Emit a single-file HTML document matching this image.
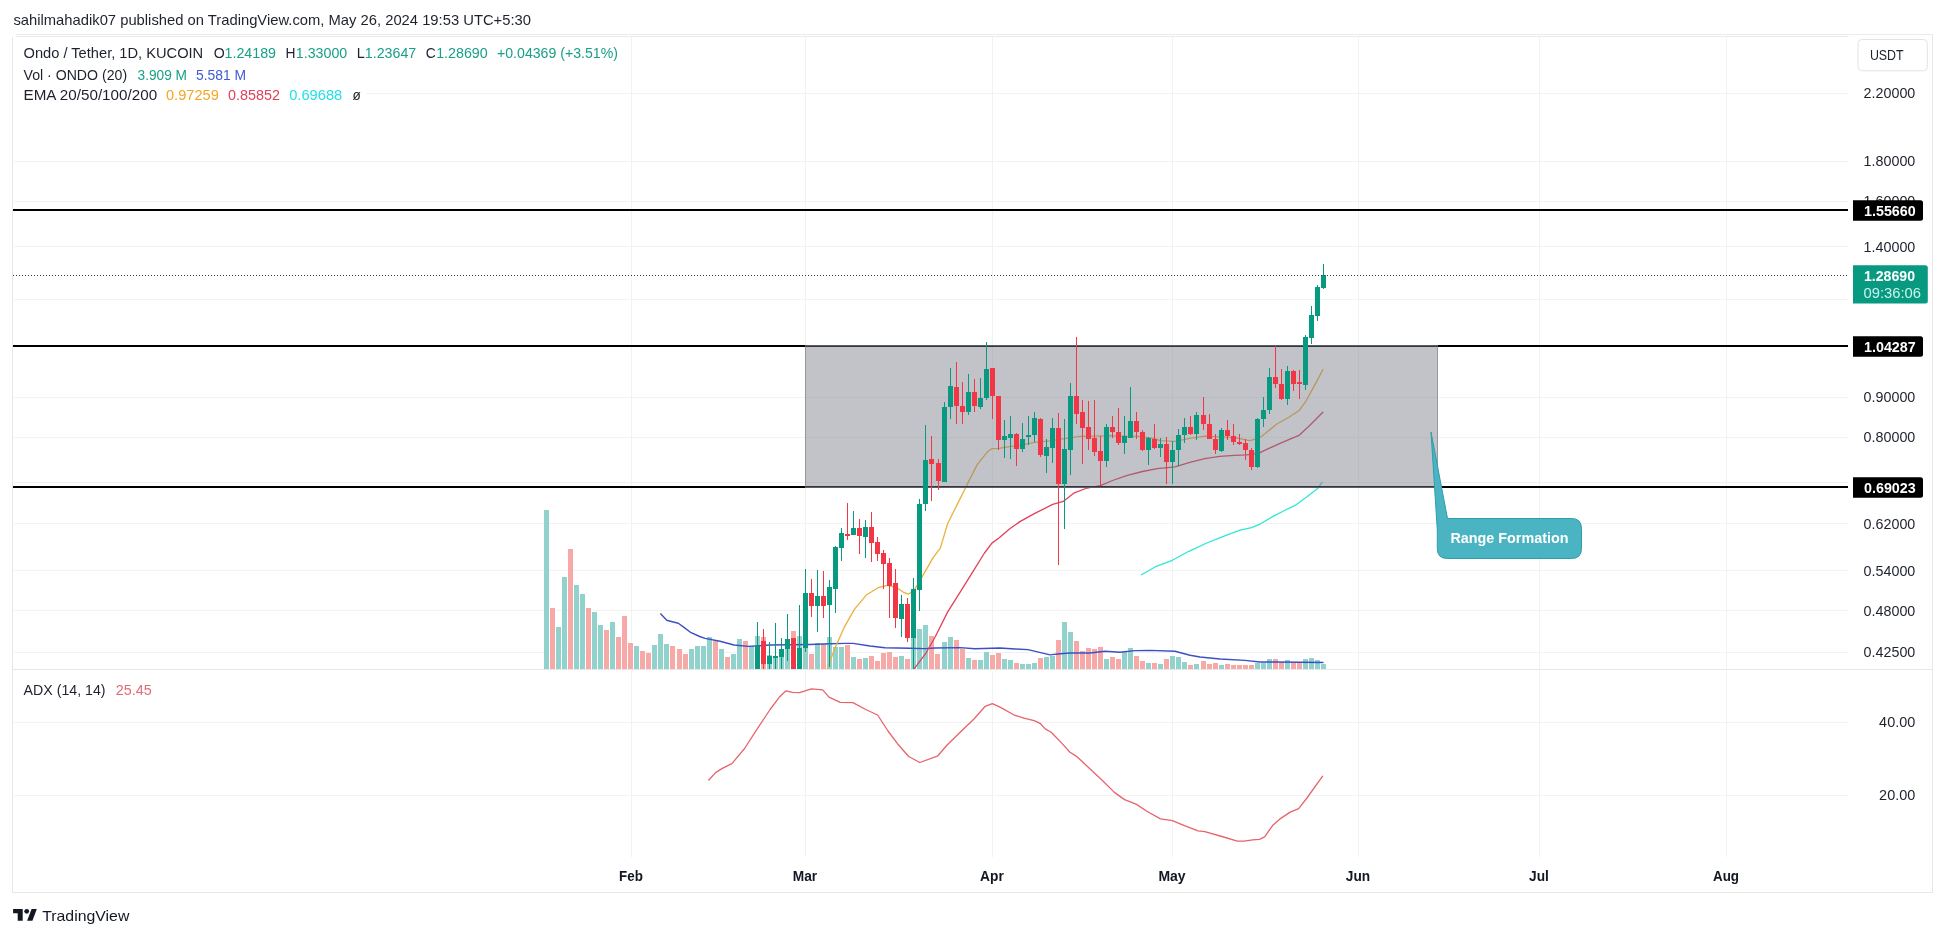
<!DOCTYPE html>
<html><head><meta charset="utf-8"><title>Ondo / Tether chart</title>
<style>html,body{margin:0;padding:0;background:#fff;width:1946px;height:937px;overflow:hidden}</style>
</head><body>
<svg width="1946" height="937" viewBox="0 0 1946 937" font-family='"Liberation Sans", sans-serif' style="display:block;will-change:transform"><rect width="1946" height="937" fill="#ffffff"/><text x="13.4" y="25" font-size="14.8" fill="#1e222d" textLength="517.6" lengthAdjust="spacingAndGlyphs">sahilmahadik07 published on TradingView.com, May 26, 2024 19:53 UTC+5:30</text><line x1="16" y1="34.5" x2="1933" y2="34.5" stroke="#ececec" stroke-width="1"/><line x1="16" y1="36.5" x2="1848" y2="36.5" stroke="#ececec" stroke-width="1"/><line x1="12.5" y1="37" x2="12.5" y2="893" stroke="#e6e6e6" stroke-width="1"/><line x1="1932.5" y1="34" x2="1932.5" y2="893" stroke="#e6e6e6" stroke-width="1"/><line x1="12" y1="892.5" x2="1933" y2="892.5" stroke="#e6e6e6" stroke-width="1"/><line x1="12" y1="669.5" x2="1933" y2="669.5" stroke="#e6e6e6" stroke-width="1"/><line x1="631.5" y1="37" x2="631.5" y2="669" stroke="#f2f2f3" stroke-width="1"/><line x1="631.5" y1="671" x2="631.5" y2="857" stroke="#f2f2f3" stroke-width="1"/><line x1="805.5" y1="37" x2="805.5" y2="669" stroke="#f2f2f3" stroke-width="1"/><line x1="805.5" y1="671" x2="805.5" y2="857" stroke="#f2f2f3" stroke-width="1"/><line x1="992.5" y1="37" x2="992.5" y2="669" stroke="#f2f2f3" stroke-width="1"/><line x1="992.5" y1="671" x2="992.5" y2="857" stroke="#f2f2f3" stroke-width="1"/><line x1="1172.5" y1="37" x2="1172.5" y2="669" stroke="#f2f2f3" stroke-width="1"/><line x1="1172.5" y1="671" x2="1172.5" y2="857" stroke="#f2f2f3" stroke-width="1"/><line x1="1358.5" y1="37" x2="1358.5" y2="669" stroke="#f2f2f3" stroke-width="1"/><line x1="1358.5" y1="671" x2="1358.5" y2="857" stroke="#f2f2f3" stroke-width="1"/><line x1="1539.5" y1="37" x2="1539.5" y2="669" stroke="#f2f2f3" stroke-width="1"/><line x1="1539.5" y1="671" x2="1539.5" y2="857" stroke="#f2f2f3" stroke-width="1"/><line x1="1726.5" y1="37" x2="1726.5" y2="669" stroke="#f2f2f3" stroke-width="1"/><line x1="1726.5" y1="671" x2="1726.5" y2="857" stroke="#f2f2f3" stroke-width="1"/><line x1="14" y1="93.5" x2="1848" y2="93.5" stroke="#f2f2f3" stroke-width="1"/><line x1="14" y1="161.5" x2="1848" y2="161.5" stroke="#f2f2f3" stroke-width="1"/><line x1="14" y1="201.5" x2="1848" y2="201.5" stroke="#f2f2f3" stroke-width="1"/><line x1="14" y1="246.5" x2="1848" y2="246.5" stroke="#f2f2f3" stroke-width="1"/><line x1="14" y1="299.5" x2="1848" y2="299.5" stroke="#f2f2f3" stroke-width="1"/><line x1="14" y1="397.5" x2="1848" y2="397.5" stroke="#f2f2f3" stroke-width="1"/><line x1="14" y1="437.5" x2="1848" y2="437.5" stroke="#f2f2f3" stroke-width="1"/><line x1="14" y1="482.5" x2="1848" y2="482.5" stroke="#f2f2f3" stroke-width="1"/><line x1="14" y1="523.5" x2="1848" y2="523.5" stroke="#f2f2f3" stroke-width="1"/><line x1="14" y1="570.5" x2="1848" y2="570.5" stroke="#f2f2f3" stroke-width="1"/><line x1="14" y1="610.5" x2="1848" y2="610.5" stroke="#f2f2f3" stroke-width="1"/><line x1="14" y1="652.5" x2="1848" y2="652.5" stroke="#f2f2f3" stroke-width="1"/><line x1="14" y1="722.5" x2="1848" y2="722.5" stroke="#f2f2f3" stroke-width="1"/><line x1="14" y1="795.5" x2="1848" y2="795.5" stroke="#f2f2f3" stroke-width="1"/><defs><clipPath id="cm"><rect x="13" y="36" width="1835" height="633"/></clipPath><clipPath id="ca"><rect x="13" y="670" width="1835" height="187"/></clipPath></defs><g clip-path="url(#cm)"><rect x="544" y="510" width="5" height="159" fill="#92d2cc"/><rect x="550" y="608" width="5" height="61" fill="#f7a9a7"/><rect x="556" y="627" width="5" height="42" fill="#92d2cc"/><rect x="562" y="577" width="5" height="92" fill="#92d2cc"/><rect x="568" y="549" width="5" height="120" fill="#f7a9a7"/><rect x="574" y="585" width="5" height="84" fill="#92d2cc"/><rect x="580" y="594" width="5" height="75" fill="#92d2cc"/><rect x="586" y="608" width="5" height="61" fill="#f7a9a7"/><rect x="592" y="612" width="5" height="57" fill="#92d2cc"/><rect x="598" y="625" width="5" height="44" fill="#92d2cc"/><rect x="604" y="630" width="5" height="39" fill="#f7a9a7"/><rect x="610" y="622" width="5" height="47" fill="#92d2cc"/><rect x="616" y="637" width="5" height="32" fill="#f7a9a7"/><rect x="622" y="616" width="5" height="53" fill="#f7a9a7"/><rect x="628" y="643" width="5" height="26" fill="#f7a9a7"/><rect x="634" y="646" width="5" height="23" fill="#92d2cc"/><rect x="640" y="651" width="5" height="18" fill="#f7a9a7"/><rect x="646" y="653" width="5" height="16" fill="#f7a9a7"/><rect x="652" y="645" width="5" height="24" fill="#92d2cc"/><rect x="658" y="634" width="5" height="35" fill="#92d2cc"/><rect x="664" y="644" width="5" height="25" fill="#92d2cc"/><rect x="670" y="646" width="5" height="23" fill="#f7a9a7"/><rect x="677" y="649" width="5" height="20" fill="#f7a9a7"/><rect x="683" y="654" width="5" height="15" fill="#f7a9a7"/><rect x="689" y="649" width="5" height="20" fill="#92d2cc"/><rect x="695" y="646" width="5" height="23" fill="#92d2cc"/><rect x="701" y="646" width="5" height="23" fill="#92d2cc"/><rect x="707" y="637" width="5" height="32" fill="#92d2cc"/><rect x="713" y="641" width="5" height="28" fill="#f7a9a7"/><rect x="719" y="649" width="5" height="20" fill="#92d2cc"/><rect x="725" y="657" width="5" height="12" fill="#f7a9a7"/><rect x="731" y="654" width="5" height="15" fill="#92d2cc"/><rect x="737" y="639" width="5" height="30" fill="#92d2cc"/><rect x="743" y="641" width="5" height="28" fill="#f7a9a7"/><rect x="749" y="646" width="5" height="23" fill="#92d2cc"/><rect x="755" y="636" width="5" height="33" fill="#92d2cc"/><rect x="761" y="637" width="5" height="32" fill="#f7a9a7"/><rect x="767" y="655" width="5" height="14" fill="#92d2cc"/><rect x="773" y="656" width="5" height="13" fill="#92d2cc"/><rect x="779" y="649" width="5" height="20" fill="#92d2cc"/><rect x="785" y="649" width="5" height="20" fill="#92d2cc"/><rect x="791" y="631" width="5" height="38" fill="#f7a9a7"/><rect x="797" y="636" width="5" height="33" fill="#92d2cc"/><rect x="803" y="645" width="5" height="24" fill="#92d2cc"/><rect x="809" y="654" width="5" height="15" fill="#f7a9a7"/><rect x="815" y="643" width="5" height="26" fill="#92d2cc"/><rect x="821" y="644" width="5" height="25" fill="#f7a9a7"/><rect x="827" y="637" width="5" height="32" fill="#92d2cc"/><rect x="833" y="647" width="5" height="22" fill="#92d2cc"/><rect x="839" y="647" width="5" height="22" fill="#92d2cc"/><rect x="845" y="645" width="5" height="24" fill="#f7a9a7"/><rect x="851" y="657" width="5" height="12" fill="#92d2cc"/><rect x="857" y="659" width="5" height="10" fill="#f7a9a7"/><rect x="863" y="658" width="5" height="11" fill="#92d2cc"/><rect x="869" y="656" width="5" height="13" fill="#f7a9a7"/><rect x="875" y="661" width="5" height="8" fill="#f7a9a7"/><rect x="881" y="653" width="5" height="16" fill="#f7a9a7"/><rect x="887" y="652" width="5" height="17" fill="#f7a9a7"/><rect x="893" y="657" width="5" height="12" fill="#f7a9a7"/><rect x="899" y="656" width="5" height="13" fill="#92d2cc"/><rect x="905" y="659" width="5" height="10" fill="#f7a9a7"/><rect x="911" y="636" width="5" height="33" fill="#92d2cc"/><rect x="917" y="629" width="5" height="40" fill="#92d2cc"/><rect x="923" y="625" width="5" height="44" fill="#92d2cc"/><rect x="929" y="636" width="5" height="33" fill="#f7a9a7"/><rect x="935" y="654" width="5" height="15" fill="#f7a9a7"/><rect x="942" y="642" width="5" height="27" fill="#92d2cc"/><rect x="948" y="637" width="5" height="32" fill="#92d2cc"/><rect x="954" y="640" width="5" height="29" fill="#f7a9a7"/><rect x="960" y="649" width="5" height="20" fill="#f7a9a7"/><rect x="966" y="658" width="5" height="11" fill="#92d2cc"/><rect x="972" y="660" width="5" height="9" fill="#f7a9a7"/><rect x="978" y="660" width="5" height="9" fill="#92d2cc"/><rect x="984" y="652" width="5" height="17" fill="#92d2cc"/><rect x="990" y="655" width="5" height="14" fill="#f7a9a7"/><rect x="996" y="653" width="5" height="16" fill="#f7a9a7"/><rect x="1002" y="659" width="5" height="10" fill="#92d2cc"/><rect x="1008" y="660" width="5" height="9" fill="#92d2cc"/><rect x="1014" y="663" width="5" height="6" fill="#f7a9a7"/><rect x="1020" y="664" width="5" height="5" fill="#92d2cc"/><rect x="1026" y="664" width="5" height="5" fill="#92d2cc"/><rect x="1032" y="663" width="5" height="6" fill="#92d2cc"/><rect x="1038" y="658" width="5" height="11" fill="#f7a9a7"/><rect x="1044" y="657" width="5" height="12" fill="#92d2cc"/><rect x="1050" y="656" width="5" height="13" fill="#92d2cc"/><rect x="1056" y="640" width="5" height="29" fill="#f7a9a7"/><rect x="1062" y="622" width="5" height="47" fill="#92d2cc"/><rect x="1068" y="632" width="5" height="37" fill="#92d2cc"/><rect x="1074" y="641" width="5" height="28" fill="#f7a9a7"/><rect x="1080" y="651" width="5" height="18" fill="#f7a9a7"/><rect x="1086" y="648" width="5" height="21" fill="#f7a9a7"/><rect x="1092" y="649" width="5" height="20" fill="#f7a9a7"/><rect x="1098" y="647" width="5" height="22" fill="#f7a9a7"/><rect x="1104" y="659" width="5" height="10" fill="#92d2cc"/><rect x="1110" y="657" width="5" height="12" fill="#f7a9a7"/><rect x="1116" y="659" width="5" height="10" fill="#f7a9a7"/><rect x="1122" y="652" width="5" height="17" fill="#92d2cc"/><rect x="1128" y="648" width="5" height="21" fill="#92d2cc"/><rect x="1134" y="656" width="5" height="13" fill="#f7a9a7"/><rect x="1140" y="661" width="5" height="8" fill="#f7a9a7"/><rect x="1146" y="663" width="5" height="6" fill="#92d2cc"/><rect x="1152" y="663" width="5" height="6" fill="#f7a9a7"/><rect x="1158" y="664" width="5" height="5" fill="#92d2cc"/><rect x="1164" y="659" width="5" height="10" fill="#f7a9a7"/><rect x="1170" y="656" width="5" height="13" fill="#92d2cc"/><rect x="1176" y="657" width="5" height="12" fill="#92d2cc"/><rect x="1182" y="662" width="5" height="7" fill="#92d2cc"/><rect x="1188" y="665" width="5" height="4" fill="#f7a9a7"/><rect x="1194" y="664" width="5" height="5" fill="#92d2cc"/><rect x="1201" y="661" width="5" height="8" fill="#f7a9a7"/><rect x="1207" y="664" width="5" height="5" fill="#f7a9a7"/><rect x="1213" y="663" width="5" height="6" fill="#f7a9a7"/><rect x="1219" y="665" width="5" height="4" fill="#92d2cc"/><rect x="1225" y="664" width="5" height="5" fill="#f7a9a7"/><rect x="1231" y="665" width="5" height="4" fill="#f7a9a7"/><rect x="1237" y="665" width="5" height="4" fill="#f7a9a7"/><rect x="1243" y="665" width="5" height="4" fill="#f7a9a7"/><rect x="1249" y="665" width="5" height="4" fill="#f7a9a7"/><rect x="1255" y="663" width="5" height="6" fill="#92d2cc"/><rect x="1261" y="663" width="5" height="6" fill="#92d2cc"/><rect x="1267" y="659" width="5" height="10" fill="#92d2cc"/><rect x="1273" y="659" width="5" height="10" fill="#f7a9a7"/><rect x="1279" y="662" width="5" height="7" fill="#f7a9a7"/><rect x="1285" y="660" width="5" height="9" fill="#92d2cc"/><rect x="1291" y="663" width="5" height="6" fill="#f7a9a7"/><rect x="1297" y="663" width="5" height="6" fill="#f7a9a7"/><rect x="1303" y="659" width="5" height="10" fill="#92d2cc"/><rect x="1309" y="658" width="5" height="11" fill="#92d2cc"/><rect x="1315" y="660" width="5" height="9" fill="#92d2cc"/><rect x="1321" y="664" width="5" height="5" fill="#92d2cc"/><polyline points="660.4,613.5 666.8,620.3 673.2,622.0 678.3,623.3 684.3,627.6 691.1,632.7 699.7,636.5 705.0,638.4 720.0,641.3 734.0,645.0 748.0,646.4 760.0,645.7 770.0,645.0 790.0,644.8 810.0,644.5 830.0,643.8 845.0,643.4 853.0,643.4 870.0,646.0 885.0,647.8 910.0,648.3 925.0,648.6 935.0,648.0 960.0,647.6 975.0,648.8 1000.0,648.0 1015.0,649.0 1028.0,649.6 1050.0,654.9 1060.0,653.8 1070.0,653.0 1090.0,653.0 1105.0,651.3 1120.0,652.3 1135.0,650.6 1150.0,650.4 1175.0,651.2 1190.0,655.2 1200.0,657.0 1220.0,659.0 1245.0,660.4 1260.0,662.0 1275.0,662.0 1300.0,662.3 1323.5,662.5" fill="none" stroke="#3b4fc4" stroke-width="1.4" stroke-linejoin="round"/><polyline points="827.4,668.4 834.7,648.7 844.6,626.6 854.4,609.4 866.7,594.7 878.9,587.3 887.5,585.4 896.1,587.3 903.5,592.3 908.4,594.2 914.5,589.8 923.1,575.1 933.0,557.9 940.3,548.1 947.7,523.5 957.5,503.9 967.3,484.2 977.2,464.6 987.0,452.3 991.9,448.6 999.0,448.4 1009.4,446.6 1019.9,445.4 1034.8,442.4 1049.8,440.9 1064.7,438.7 1079.6,436.4 1094.6,436.1 1109.5,435.7 1124.4,436.1 1139.4,436.4 1154.3,438.7 1160.0,440.7 1174.9,441.4 1189.9,438.4 1204.8,436.2 1219.8,436.9 1234.7,437.7 1249.6,440.7 1258.6,438.4 1264.6,434.0 1276.5,424.2 1288.5,417.5 1298.9,410.8 1306.4,400.3 1315.4,383.9 1322.8,369.7" fill="none" stroke="#eab13a" stroke-width="1.3" stroke-linejoin="round" stroke-linecap="round"/><polyline points="914.5,668.4 925.6,653.7 935.4,636.5 947.7,611.9 960.0,592.3 972.3,572.6 984.5,553.0 991.9,543.1 999.0,538.0 1009.4,529.0 1019.9,521.6 1034.8,513.4 1052.7,504.4 1063.2,501.4 1073.7,493.2 1087.1,488.0 1100.5,485.7 1112.5,480.5 1127.4,475.3 1142.4,471.5 1157.3,468.6 1174.9,466.8 1189.9,462.3 1204.8,458.6 1219.8,456.4 1234.7,455.3 1246.6,454.9 1258.6,453.4 1264.6,450.4 1279.5,443.7 1290.0,439.2 1298.9,435.4 1309.4,425.7 1322.8,412.3" fill="none" stroke="#e2405a" stroke-width="1.3" stroke-linejoin="round" stroke-linecap="round"/><polyline points="1141.5,574.7 1155.6,566.7 1172.3,560.3 1188.9,551.3 1206.8,543.0 1226.0,535.3 1240.1,530.2 1251.6,527.6 1260.6,523.8 1273.4,516.1 1283.6,511.0 1296.5,504.6 1309.3,495.0 1318.2,487.9 1322.1,482.2" fill="none" stroke="#2ee6d6" stroke-width="1.3" stroke-linejoin="round" stroke-linecap="round"/><line x1="13" y1="210" x2="1853" y2="210" stroke="#000" stroke-width="2"/><line x1="13" y1="346" x2="1853" y2="346" stroke="#000" stroke-width="2"/><line x1="13" y1="487" x2="1853" y2="487" stroke="#000" stroke-width="2"/><rect x="805.5" y="345.5" width="632" height="142" fill="rgba(120,123,134,0.45)" stroke="rgba(120,123,134,0.7)" stroke-width="1"/><rect x="757" y="622" width="1" height="50" fill="#089981"/><rect x="755" y="646" width="5" height="26" fill="#089981"/><rect x="763" y="629" width="1" height="43" fill="#f23645"/><rect x="761" y="641" width="5" height="23" fill="#f23645"/><rect x="769" y="642" width="1" height="30" fill="#089981"/><rect x="767" y="656" width="5" height="8" fill="#089981"/><rect x="775" y="623" width="1" height="49" fill="#089981"/><rect x="773" y="656" width="5" height="2" fill="#089981"/><rect x="781" y="638" width="1" height="34" fill="#089981"/><rect x="779" y="649" width="5" height="8" fill="#089981"/><rect x="787" y="614" width="1" height="47" fill="#089981"/><rect x="785" y="639" width="5" height="10" fill="#089981"/><rect x="793" y="638" width="1" height="34" fill="#f23645"/><rect x="791" y="638" width="5" height="34" fill="#f23645"/><rect x="799" y="605" width="1" height="67" fill="#089981"/><rect x="797" y="648" width="5" height="24" fill="#089981"/><rect x="805" y="569" width="1" height="83" fill="#089981"/><rect x="803" y="593" width="5" height="55" fill="#089981"/><rect x="811" y="579" width="1" height="38" fill="#f23645"/><rect x="809" y="593" width="5" height="13" fill="#f23645"/><rect x="817" y="570" width="1" height="62" fill="#089981"/><rect x="815" y="596" width="5" height="10" fill="#089981"/><rect x="823" y="571" width="1" height="47" fill="#f23645"/><rect x="821" y="596" width="5" height="10" fill="#f23645"/><rect x="829" y="580" width="1" height="87" fill="#089981"/><rect x="827" y="587" width="5" height="18" fill="#089981"/><rect x="835" y="546" width="1" height="67" fill="#089981"/><rect x="833" y="547" width="5" height="42" fill="#089981"/><rect x="841" y="528" width="1" height="33" fill="#089981"/><rect x="839" y="533" width="5" height="15" fill="#089981"/><rect x="847" y="503" width="1" height="37" fill="#f23645"/><rect x="845" y="534" width="5" height="2" fill="#f23645"/><rect x="853" y="511" width="1" height="24" fill="#089981"/><rect x="851" y="528" width="5" height="7" fill="#089981"/><rect x="859" y="519" width="1" height="35" fill="#f23645"/><rect x="857" y="528" width="5" height="8" fill="#f23645"/><rect x="865" y="520" width="1" height="38" fill="#089981"/><rect x="863" y="527" width="5" height="10" fill="#089981"/><rect x="871" y="512" width="1" height="50" fill="#f23645"/><rect x="869" y="527" width="5" height="16" fill="#f23645"/><rect x="877" y="537" width="1" height="24" fill="#f23645"/><rect x="875" y="542" width="5" height="12" fill="#f23645"/><rect x="883" y="550" width="1" height="39" fill="#f23645"/><rect x="881" y="553" width="5" height="11" fill="#f23645"/><rect x="889" y="558" width="1" height="60" fill="#f23645"/><rect x="887" y="563" width="5" height="23" fill="#f23645"/><rect x="895" y="569" width="1" height="59" fill="#f23645"/><rect x="893" y="583" width="5" height="35" fill="#f23645"/><rect x="901" y="595" width="1" height="42" fill="#089981"/><rect x="899" y="604" width="5" height="15" fill="#089981"/><rect x="907" y="598" width="1" height="44" fill="#f23645"/><rect x="905" y="604" width="5" height="34" fill="#f23645"/><rect x="913" y="578" width="1" height="91" fill="#089981"/><rect x="911" y="589" width="5" height="49" fill="#089981"/><rect x="919" y="499" width="1" height="112" fill="#089981"/><rect x="917" y="504" width="5" height="86" fill="#089981"/><rect x="925" y="425" width="1" height="86" fill="#089981"/><rect x="923" y="460" width="5" height="44" fill="#089981"/><rect x="931" y="436" width="1" height="65" fill="#f23645"/><rect x="929" y="459" width="5" height="5" fill="#f23645"/><rect x="938" y="459" width="1" height="31" fill="#f23645"/><rect x="936" y="463" width="5" height="18" fill="#f23645"/><rect x="944" y="402" width="1" height="80" fill="#089981"/><rect x="942" y="407" width="5" height="75" fill="#089981"/><rect x="950" y="368" width="1" height="51" fill="#089981"/><rect x="948" y="386" width="5" height="21" fill="#089981"/><rect x="956" y="362" width="1" height="62" fill="#f23645"/><rect x="954" y="387" width="5" height="19" fill="#f23645"/><rect x="962" y="382" width="1" height="42" fill="#f23645"/><rect x="960" y="406" width="5" height="6" fill="#f23645"/><rect x="968" y="374" width="1" height="41" fill="#089981"/><rect x="966" y="392" width="5" height="20" fill="#089981"/><rect x="974" y="379" width="1" height="33" fill="#f23645"/><rect x="972" y="392" width="5" height="14" fill="#f23645"/><rect x="980" y="378" width="1" height="31" fill="#089981"/><rect x="978" y="398" width="5" height="9" fill="#089981"/><rect x="986" y="342" width="1" height="58" fill="#089981"/><rect x="984" y="369" width="5" height="29" fill="#089981"/><rect x="992" y="368" width="1" height="51" fill="#f23645"/><rect x="990" y="368" width="5" height="28" fill="#f23645"/><rect x="998" y="396" width="1" height="54" fill="#f23645"/><rect x="996" y="396" width="5" height="44" fill="#f23645"/><rect x="1004" y="420" width="1" height="38" fill="#089981"/><rect x="1002" y="436" width="5" height="4" fill="#089981"/><rect x="1010" y="416" width="1" height="43" fill="#089981"/><rect x="1008" y="434" width="5" height="4" fill="#089981"/><rect x="1016" y="433" width="1" height="33" fill="#f23645"/><rect x="1014" y="434" width="5" height="15" fill="#f23645"/><rect x="1022" y="423" width="1" height="29" fill="#089981"/><rect x="1020" y="439" width="5" height="10" fill="#089981"/><rect x="1028" y="416" width="1" height="29" fill="#089981"/><rect x="1026" y="435" width="5" height="2" fill="#089981"/><rect x="1034" y="412" width="1" height="30" fill="#089981"/><rect x="1032" y="418" width="5" height="17" fill="#089981"/><rect x="1040" y="418" width="1" height="39" fill="#f23645"/><rect x="1038" y="419" width="5" height="36" fill="#f23645"/><rect x="1046" y="439" width="1" height="34" fill="#089981"/><rect x="1044" y="447" width="5" height="9" fill="#089981"/><rect x="1052" y="418" width="1" height="45" fill="#089981"/><rect x="1050" y="428" width="5" height="20" fill="#089981"/><rect x="1058" y="413" width="1" height="152" fill="#f23645"/><rect x="1056" y="428" width="5" height="56" fill="#f23645"/><rect x="1064" y="419" width="1" height="110" fill="#089981"/><rect x="1062" y="449" width="5" height="35" fill="#089981"/><rect x="1070" y="383" width="1" height="92" fill="#089981"/><rect x="1068" y="396" width="5" height="54" fill="#089981"/><rect x="1076" y="337" width="1" height="87" fill="#f23645"/><rect x="1074" y="396" width="5" height="18" fill="#f23645"/><rect x="1082" y="400" width="1" height="64" fill="#f23645"/><rect x="1080" y="412" width="5" height="16" fill="#f23645"/><rect x="1088" y="401" width="1" height="49" fill="#f23645"/><rect x="1086" y="427" width="5" height="12" fill="#f23645"/><rect x="1094" y="400" width="1" height="56" fill="#f23645"/><rect x="1092" y="438" width="5" height="14" fill="#f23645"/><rect x="1100" y="436" width="1" height="50" fill="#f23645"/><rect x="1098" y="451" width="5" height="10" fill="#f23645"/><rect x="1106" y="424" width="1" height="43" fill="#089981"/><rect x="1104" y="427" width="5" height="34" fill="#089981"/><rect x="1112" y="416" width="1" height="22" fill="#f23645"/><rect x="1110" y="427" width="5" height="5" fill="#f23645"/><rect x="1118" y="408" width="1" height="37" fill="#f23645"/><rect x="1116" y="432" width="5" height="11" fill="#f23645"/><rect x="1124" y="416" width="1" height="38" fill="#089981"/><rect x="1122" y="436" width="5" height="7" fill="#089981"/><rect x="1130" y="387" width="1" height="51" fill="#089981"/><rect x="1128" y="421" width="5" height="17" fill="#089981"/><rect x="1136" y="412" width="1" height="27" fill="#f23645"/><rect x="1134" y="421" width="5" height="11" fill="#f23645"/><rect x="1142" y="430" width="1" height="21" fill="#f23645"/><rect x="1140" y="432" width="5" height="18" fill="#f23645"/><rect x="1148" y="437" width="1" height="28" fill="#089981"/><rect x="1146" y="438" width="5" height="12" fill="#089981"/><rect x="1154" y="424" width="1" height="25" fill="#f23645"/><rect x="1152" y="439" width="5" height="9" fill="#f23645"/><rect x="1160" y="438" width="1" height="19" fill="#089981"/><rect x="1158" y="444" width="5" height="4" fill="#089981"/><rect x="1166" y="437" width="1" height="47" fill="#f23645"/><rect x="1164" y="444" width="5" height="18" fill="#f23645"/><rect x="1172" y="441" width="1" height="43" fill="#089981"/><rect x="1170" y="450" width="5" height="12" fill="#089981"/><rect x="1178" y="429" width="1" height="37" fill="#089981"/><rect x="1176" y="435" width="5" height="15" fill="#089981"/><rect x="1184" y="418" width="1" height="25" fill="#089981"/><rect x="1182" y="427" width="5" height="8" fill="#089981"/><rect x="1190" y="416" width="1" height="19" fill="#f23645"/><rect x="1188" y="427" width="5" height="7" fill="#f23645"/><rect x="1196" y="412" width="1" height="28" fill="#089981"/><rect x="1194" y="415" width="5" height="19" fill="#089981"/><rect x="1203" y="397" width="1" height="33" fill="#f23645"/><rect x="1201" y="415" width="5" height="9" fill="#f23645"/><rect x="1209" y="414" width="1" height="25" fill="#f23645"/><rect x="1207" y="424" width="5" height="15" fill="#f23645"/><rect x="1215" y="434" width="1" height="20" fill="#f23645"/><rect x="1213" y="439" width="5" height="11" fill="#f23645"/><rect x="1221" y="428" width="1" height="24" fill="#089981"/><rect x="1219" y="430" width="5" height="21" fill="#089981"/><rect x="1227" y="420" width="1" height="20" fill="#f23645"/><rect x="1225" y="430" width="5" height="6" fill="#f23645"/><rect x="1233" y="424" width="1" height="21" fill="#f23645"/><rect x="1231" y="436" width="5" height="6" fill="#f23645"/><rect x="1239" y="434" width="1" height="11" fill="#f23645"/><rect x="1237" y="442" width="5" height="2" fill="#f23645"/><rect x="1245" y="439" width="1" height="21" fill="#f23645"/><rect x="1243" y="443" width="5" height="7" fill="#f23645"/><rect x="1251" y="448" width="1" height="22" fill="#f23645"/><rect x="1249" y="450" width="5" height="17" fill="#f23645"/><rect x="1257" y="418" width="1" height="50" fill="#089981"/><rect x="1255" y="419" width="5" height="48" fill="#089981"/><rect x="1263" y="397" width="1" height="30" fill="#089981"/><rect x="1261" y="410" width="5" height="9" fill="#089981"/><rect x="1269" y="368" width="1" height="46" fill="#089981"/><rect x="1267" y="377" width="5" height="33" fill="#089981"/><rect x="1275" y="346" width="1" height="42" fill="#f23645"/><rect x="1273" y="377" width="5" height="7" fill="#f23645"/><rect x="1281" y="369" width="1" height="31" fill="#f23645"/><rect x="1279" y="384" width="5" height="15" fill="#f23645"/><rect x="1287" y="366" width="1" height="39" fill="#089981"/><rect x="1285" y="371" width="5" height="28" fill="#089981"/><rect x="1293" y="370" width="1" height="21" fill="#f23645"/><rect x="1291" y="371" width="5" height="13" fill="#f23645"/><rect x="1299" y="370" width="1" height="29" fill="#f23645"/><rect x="1297" y="382" width="5" height="2" fill="#f23645"/><rect x="1305" y="335" width="1" height="55" fill="#089981"/><rect x="1303" y="337" width="5" height="48" fill="#089981"/><rect x="1311" y="306" width="1" height="38" fill="#089981"/><rect x="1309" y="315" width="5" height="23" fill="#089981"/><rect x="1317" y="285" width="1" height="36" fill="#089981"/><rect x="1315" y="287" width="5" height="29" fill="#089981"/><rect x="1323" y="264" width="1" height="25" fill="#089981"/><rect x="1321" y="275" width="5" height="13" fill="#089981"/><line x1="13" y1="275.5" x2="1853" y2="275.5" stroke="#3a3a3a" stroke-width="1" stroke-dasharray="1 2"/></g><g clip-path="url(#ca)"><polyline points="708.8,780.0 715.9,772.4 722.3,768.4 731.9,763.6 744.6,748.5 757.4,728.6 770.1,709.5 779.7,696.7 786.0,690.8 792.4,692.4 799.6,692.7 811.5,688.8 822.7,689.9 829.0,697.2 840.2,702.3 852.9,702.6 865.7,709.5 877.6,715.0 888.0,731.0 897.5,743.7 908.7,756.5 919.8,762.5 937.4,756.2 946.9,745.3 958.1,734.2 974.0,719.0 985.2,706.3 992.3,703.6 1000.0,707.1 1013.7,714.8 1023.9,718.2 1034.1,720.7 1040.1,723.3 1045.2,728.9 1051.2,732.3 1061.5,742.9 1070.0,752.3 1076.8,756.6 1088.8,767.7 1102.4,780.5 1114.4,792.4 1124.6,799.6 1136.6,804.4 1146.8,811.2 1160.5,818.9 1172.4,820.6 1184.4,825.7 1198.0,830.8 1204.8,831.7 1221.9,836.5 1237.3,841.1 1244.1,841.1 1252.7,839.9 1259.5,839.4 1264.6,836.8 1273.1,824.9 1280.0,818.9 1290.2,812.1 1298.7,808.6 1307.3,797.5 1322.6,776.2" fill="none" stroke="#e8636b" stroke-width="1.3" stroke-linejoin="round" stroke-linecap="round"/></g><path d="M1431,432 L1447.5,518.5 L1571.5,518.5 Q1581.5,518.5 1581.5,528.5 L1581.5,548.5 Q1581.5,558.5 1571.5,558.5 L1447.3,558.5 Q1437.3,558.5 1437.3,548.5 L1437.3,530 Z" fill="#4ab4c2" stroke="#2e9ea9" stroke-width="1"/><text x="1509.5" y="542.8" font-size="14.4" font-weight="bold" fill="#ffffff" text-anchor="middle" textLength="118" lengthAdjust="spacingAndGlyphs">Range Formation</text><rect x="14" y="86" width="353" height="18" fill="#fff"/><text x="23.5" y="58.4" font-size="14.5" fill="#1e222d" textLength="179.7" lengthAdjust="spacingAndGlyphs">Ondo / Tether, 1D, KUCOIN</text><text x="213.8" y="58.4" font-size="14.5" fill="#1e222d" textLength="11" lengthAdjust="spacingAndGlyphs">O</text><text x="224.5" y="58.4" font-size="14.5" fill="#179f88" textLength="51.5" lengthAdjust="spacingAndGlyphs">1.24189</text><text x="285.6" y="58.4" font-size="14.5" fill="#1e222d" textLength="10" lengthAdjust="spacingAndGlyphs">H</text><text x="295.8" y="58.4" font-size="14.5" fill="#179f88" textLength="51.5" lengthAdjust="spacingAndGlyphs">1.33000</text><text x="356.7" y="58.4" font-size="14.5" fill="#1e222d" textLength="8" lengthAdjust="spacingAndGlyphs">L</text><text x="364.8" y="58.4" font-size="14.5" fill="#179f88" textLength="51.5" lengthAdjust="spacingAndGlyphs">1.23647</text><text x="425.8" y="58.4" font-size="14.5" fill="#1e222d" textLength="10" lengthAdjust="spacingAndGlyphs">C</text><text x="436.2" y="58.4" font-size="14.5" fill="#179f88" textLength="51.5" lengthAdjust="spacingAndGlyphs">1.28690</text><text x="497" y="58.4" font-size="14.5" fill="#179f88" textLength="121" lengthAdjust="spacingAndGlyphs">+0.04369 (+3.51%)</text><text x="23.5" y="79.5" font-size="14.5" fill="#1e222d" textLength="103.6" lengthAdjust="spacingAndGlyphs">Vol · ONDO (20)</text><text x="137.6" y="79.5" font-size="14.5" fill="#179f88" textLength="49.4" lengthAdjust="spacingAndGlyphs">3.909 M</text><text x="196" y="79.5" font-size="14.5" fill="#3f5bd8" textLength="50.2" lengthAdjust="spacingAndGlyphs">5.581 M</text><text x="23.5" y="100" font-size="14.5" fill="#1e222d" textLength="133.6" lengthAdjust="spacingAndGlyphs">EMA 20/50/100/200</text><text x="166" y="100" font-size="14.5" fill="#f5a623" textLength="52.8" lengthAdjust="spacingAndGlyphs">0.97259</text><text x="228.1" y="100" font-size="14.5" fill="#e2405a" textLength="51.9" lengthAdjust="spacingAndGlyphs">0.85852</text><text x="289.2" y="100" font-size="14.5" fill="#20e0e8" textLength="53.1" lengthAdjust="spacingAndGlyphs">0.69688</text><text x="352.4" y="100" font-size="14.5" fill="#1e222d" textLength="8.3" lengthAdjust="spacingAndGlyphs">ø</text><text x="23.6" y="694.9" font-size="14.5" fill="#1e222d" textLength="82" lengthAdjust="spacingAndGlyphs">ADX (14, 14)</text><text x="115.7" y="694.9" font-size="14.5" fill="#e46b73" textLength="36" lengthAdjust="spacingAndGlyphs">25.45</text><text x="1863.6" y="98.0" font-size="14.5" fill="#1e222d" textLength="51.7" lengthAdjust="spacingAndGlyphs">2.20000</text><text x="1863.6" y="166.2" font-size="14.5" fill="#1e222d" textLength="51.7" lengthAdjust="spacingAndGlyphs">1.80000</text><text x="1863.6" y="206.3" font-size="14.5" fill="#1e222d" textLength="51.7" lengthAdjust="spacingAndGlyphs">1.60000</text><text x="1863.6" y="251.6" font-size="14.5" fill="#1e222d" textLength="51.7" lengthAdjust="spacingAndGlyphs">1.40000</text><text x="1863.6" y="401.8" font-size="14.5" fill="#1e222d" textLength="51.7" lengthAdjust="spacingAndGlyphs">0.90000</text><text x="1863.6" y="441.9" font-size="14.5" fill="#1e222d" textLength="51.7" lengthAdjust="spacingAndGlyphs">0.80000</text><text x="1863.6" y="528.5" font-size="14.5" fill="#1e222d" textLength="51.7" lengthAdjust="spacingAndGlyphs">0.62000</text><text x="1863.6" y="575.5" font-size="14.5" fill="#1e222d" textLength="51.7" lengthAdjust="spacingAndGlyphs">0.54000</text><text x="1863.6" y="615.5" font-size="14.5" fill="#1e222d" textLength="51.7" lengthAdjust="spacingAndGlyphs">0.48000</text><text x="1863.6" y="656.9" font-size="14.5" fill="#1e222d" textLength="51.7" lengthAdjust="spacingAndGlyphs">0.42500</text><text x="1879.1" y="727.2" font-size="14.5" fill="#1e222d" textLength="36.2" lengthAdjust="spacingAndGlyphs">40.00</text><text x="1879.1" y="800.2" font-size="14.5" fill="#1e222d" textLength="36.2" lengthAdjust="spacingAndGlyphs">20.00</text><rect x="1858" y="39.5" width="69.3" height="31.3" rx="4" fill="#fff" stroke="#e3e3e5" stroke-width="1"/><text x="1869.9" y="59.7" font-size="14.8" fill="#1e222d" textLength="33.7" lengthAdjust="spacingAndGlyphs">USDT</text><path d="M1853,200.2 h67.5 a2.5,2.5 0 0 1 2.5,2.5 v15.5 a2.5,2.5 0 0 1 -2.5,2.5 h-67.5 Z" fill="#000"/><text x="1864" y="215.9" font-size="14.5" fill="#ffffff" textLength="51.7" lengthAdjust="spacingAndGlyphs" font-weight="bold">1.55660</text><path d="M1853,336.2 h67.5 a2.5,2.5 0 0 1 2.5,2.5 v15.5 a2.5,2.5 0 0 1 -2.5,2.5 h-67.5 Z" fill="#000"/><text x="1864" y="351.9" font-size="14.5" fill="#ffffff" textLength="51.7" lengthAdjust="spacingAndGlyphs" font-weight="bold">1.04287</text><path d="M1853,477.2 h67.5 a2.5,2.5 0 0 1 2.5,2.5 v15.5 a2.5,2.5 0 0 1 -2.5,2.5 h-67.5 Z" fill="#000"/><text x="1864" y="492.9" font-size="14.5" fill="#ffffff" textLength="51.7" lengthAdjust="spacingAndGlyphs" font-weight="bold">0.69023</text><path d="M1853,265.2 h72.3 a2.5,2.5 0 0 1 2.5,2.5 v33.4 a2.5,2.5 0 0 1 -2.5,2.5 h-72.3 Z" fill="#089981"/><text x="1864" y="280.7" font-size="14.5" fill="#ffffff" textLength="51" lengthAdjust="spacingAndGlyphs" font-weight="bold">1.28690</text><text x="1863.5" y="298.3" font-size="14.5" fill="#c9f5ee" textLength="57.5" lengthAdjust="spacingAndGlyphs">09:36:06</text><text x="619.1" y="880.6" font-size="13.9" fill="#131722" textLength="23.8" lengthAdjust="spacingAndGlyphs" font-weight="bold">Feb</text><text x="792.8" y="880.6" font-size="13.9" fill="#131722" textLength="24.4" lengthAdjust="spacingAndGlyphs" font-weight="bold">Mar</text><text x="980.1" y="880.6" font-size="13.9" fill="#131722" textLength="23.7" lengthAdjust="spacingAndGlyphs" font-weight="bold">Apr</text><text x="1158.4" y="880.6" font-size="13.9" fill="#131722" textLength="27.2" lengthAdjust="spacingAndGlyphs" font-weight="bold">May</text><text x="1345.8" y="880.6" font-size="13.9" fill="#131722" textLength="24.3" lengthAdjust="spacingAndGlyphs" font-weight="bold">Jun</text><text x="1529.1" y="880.6" font-size="13.9" fill="#131722" textLength="19.8" lengthAdjust="spacingAndGlyphs" font-weight="bold">Jul</text><text x="1713.0" y="880.6" font-size="13.9" fill="#131722" textLength="26" lengthAdjust="spacingAndGlyphs" font-weight="bold">Aug</text><g fill="#131722"><path d="M13.1,909 H22.7 V920.7 H17.7 V913.3 H13.1 Z"/><circle cx="26.7" cy="911.3" r="2.4"/><path d="M31.6,909 H36.8 L32.4,920.7 H27.1 Z"/></g><text x="42.2" y="920.6" font-size="14.8" fill="#131722" textLength="87.2" lengthAdjust="spacingAndGlyphs">TradingView</text></svg>
</body></html>
